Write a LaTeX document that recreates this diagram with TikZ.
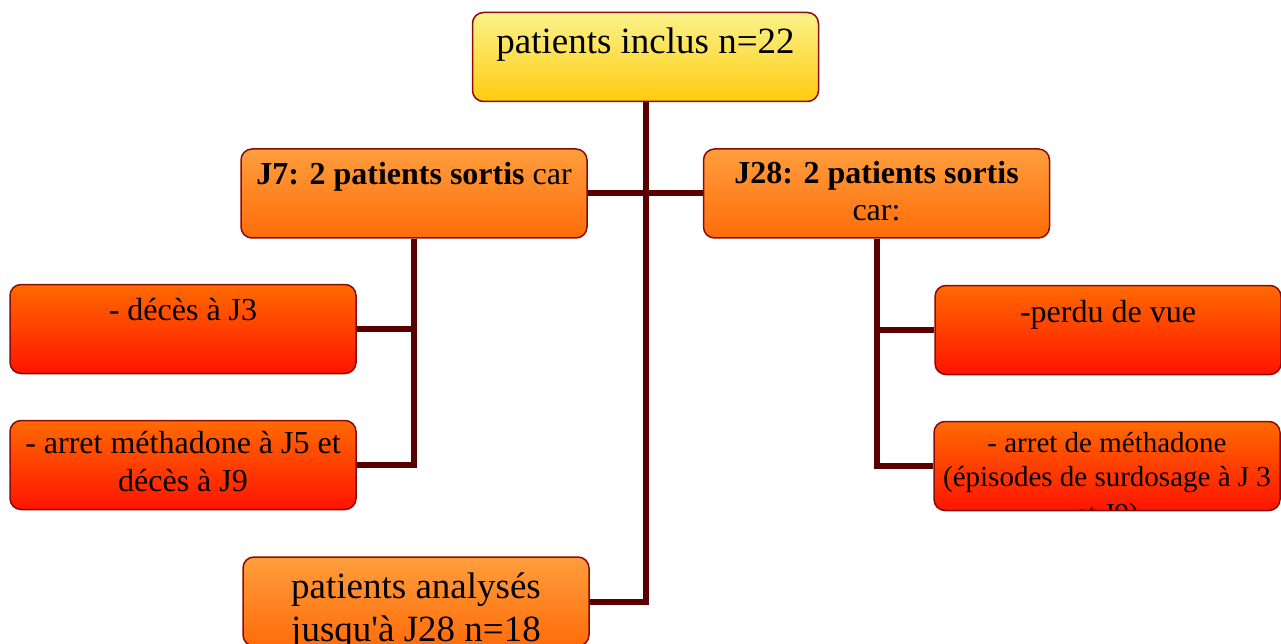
\documentclass[tikz,border=0pt]{standalone}
\usepackage{fontspec}
\setmainfont{Liberation Serif}[Ligatures=TeXOff]
\definecolor{yelA}{HTML}{FAF38A}
\definecolor{yelB}{HTML}{FFCB10}
\definecolor{orA}{HTML}{FF9E3D}
\definecolor{orB}{HTML}{FF6C0A}
\definecolor{redA}{HTML}{FF6A00}
\definecolor{redB}{HTML}{FF1400}
\definecolor{bordc}{HTML}{8B0A0A}
\definecolor{connc}{HTML}{5A0000}
\newcommand\bxt[4]{\parbox[c][89pt][t]{346pt}{\centering\fontsize{#1}{#2}\selectfont\lineskiplimit=-100pt\rule{0pt}{#3pt}#4\par}}
\tikzset{
  boxbase/.style={draw=bordc, line width=1.5pt, rounded corners=11pt, inner sep=0pt, minimum width=346pt, minimum height=89pt},
  yelbox/.style={boxbase, top color=yelA, bottom color=yelB},
  orbox/.style={boxbase, top color=orA, bottom color=orB},
  redbox/.style={boxbase, top color=redA, bottom color=redB},
  conn/.style={draw=connc, line width=6pt}
}
\begin{document}
\begin{tikzpicture}[x=1pt,y=-1pt]
\useasboundingbox (0,0) rectangle (1281,644);
\clip (0,0) rectangle (1281,644);
\node[yelbox] (top) at (645.5,57) {\bxt{37}{43}{41}{patients inclus n=22}};
\node[orbox] (j7) at (414,193.5) {\bxt{32}{37}{36}{\textbf{J7: 2 patients sortis} car}};
\node[orbox] (j28) at (876.5,193.5) {\bxt{32}{37}{35}{\textbf{J28: 2 patients sortis}\\car:}};
\node[redbox] (deces) at (183,329) {\bxt{32}{37}{36}{- décès à J3}};
\node[redbox] (arl) at (183,465) {\bxt{32}{37.5}{33}{- arret méthadone à J5 et\\décès à J9}};
\node[redbox] (perdu) at (1108,330) {\bxt{32}{37}{37}{-perdu de vue}};
\node[redbox, path picture={\node[inner sep=0pt] (arrt) at (path picture bounding box.center) {\bxt{29}{34}{31}{- arret de méthadone\\(épisodes de surdosage à J 3\\[3pt]et J9)}};}] (arr) at (1107,466) {};
\node[orbox] (bot) at (416,601.5) {\bxt{37}{43}{41}{patients analysés\\jusqu'à J28 n=18}};
\draw[conn] (top.south) |- (bot.east);
\draw[conn] (j7.east) -- (j28.west);
\draw[conn] (j7.south) |- (deces.east);
\draw[conn] (j7.south) |- (arl.east);
\draw[conn] (j28.south) |- (perdu.west);
\draw[conn] (j28.south) |- (arr.west);
\end{tikzpicture}
\end{document}
